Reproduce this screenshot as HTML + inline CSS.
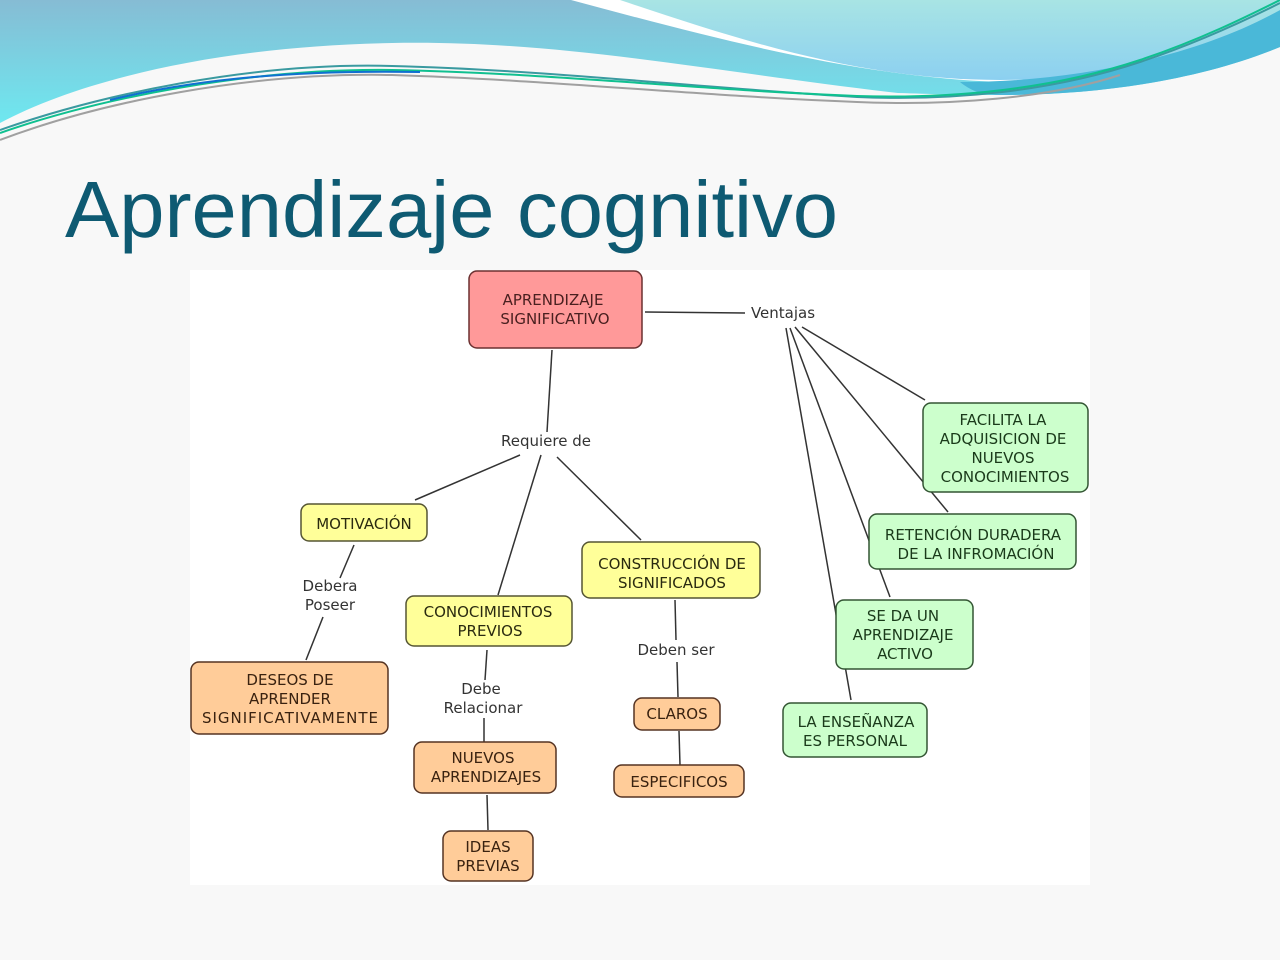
<!DOCTYPE html>
<html><head><meta charset="utf-8"><style>
html,body{margin:0;padding:0;width:1280px;height:960px;overflow:hidden;background:#f8f8f8}
svg{display:block}
</style></head><body>
<svg width="1280" height="960" viewBox="0 0 1280 960" xmlns="http://www.w3.org/2000/svg">
<defs>
<linearGradient id="g1" x1="0" y1="0" x2="0" y2="1"><stop offset="0" stop-color="#86bcd4"/><stop offset="1" stop-color="#6ee8f0"/></linearGradient>
<linearGradient id="g2" x1="0" y1="0" x2="0" y2="1"><stop offset="0" stop-color="#a8e4e4"/><stop offset="1" stop-color="#8cd0f0"/></linearGradient>
</defs>
<rect width="1280" height="960" fill="#f8f8f8"/>
<path d="M0 0 H1280 V47 C1200 80 1100 95 1000 95 C960 95 930 94 898 93 C700 70 560 40 392 43 C220 46 80 80 0 123 Z" fill="url(#g1)"/>
<path d="M571 0 H1280 V30 C1200 70 1080 85 1000 82 C860 77 720 40 571 0 Z" fill="#fff"/>
<path d="M620 0 H1280 V10 C1220 50 1120 80 1000 80 C860 80 740 40 620 0 Z" fill="url(#g2)"/>
<path d="M960 82 C1080 82 1200 55 1280 10 V47 C1200 80 1100 95 1000 95 C980 95 970 90 960 82 Z" fill="#4ab8d8"/>
<path d="M0 130 C100 95 250 62 392 66 C550 70 700 88 857 97 C950 101 1050 92 1140 62 C1200 42 1250 18 1280 3" fill="none" stroke="#3a9aa0" stroke-width="2"/>
<path d="M0 133 C100 98 250 68 392 70 C550 73 700 90 857 96 C950 99 1050 90 1140 60 C1200 40 1250 15 1280 0" fill="none" stroke="#10c090" stroke-width="2"/>
<path d="M0 140 C100 102 250 72 392 75 C550 80 700 96 857 102 C950 106 1050 98 1120 75" fill="none" stroke="#a0a0a0" stroke-width="2"/>
<path d="M110 100 C200 78 300 70 420 72" fill="none" stroke="#1070d0" stroke-width="2"/>
<text x="65" y="237" font-family="Liberation Sans, sans-serif" font-size="80" fill="#0e5a72" textLength="773" lengthAdjust="spacingAndGlyphs">Aprendizaje cognitivo</text>
<rect x="190" y="270" width="900" height="615" fill="#fff"/>
<g stroke="#333" stroke-width="1.5" fill="none">
<line x1="552" y1="350" x2="547" y2="432"/>
<line x1="645" y1="312" x2="745" y2="313"/>
<line x1="520" y1="455" x2="415" y2="500"/>
<line x1="541" y1="455" x2="498" y2="595"/>
<line x1="557" y1="457" x2="641" y2="540"/>
<line x1="354" y1="545" x2="340" y2="578"/>
<line x1="323" y1="617" x2="306" y2="660"/>
<line x1="487" y1="650" x2="485" y2="680"/>
<line x1="484" y1="718" x2="484" y2="742"/>
<line x1="487" y1="795" x2="488" y2="830"/>
<line x1="675" y1="600" x2="676" y2="640"/>
<line x1="677" y1="662" x2="678" y2="697"/>
<line x1="679" y1="731" x2="680" y2="765"/>
<line x1="802" y1="327" x2="925" y2="400"/>
<line x1="795" y1="327" x2="948" y2="512"/>
<line x1="790" y1="328" x2="890" y2="597"/>
<line x1="786" y1="328" x2="851" y2="700"/>
</g>
<g stroke-width="1.5">
<rect x="469" y="271" width="173" height="77" rx="8" fill="#ff9999" stroke="#6b3030"/>
<rect x="301" y="504" width="126" height="37" rx="8" fill="#ffff99" stroke="#555533"/>
<rect x="406" y="596" width="166" height="50" rx="8" fill="#ffff99" stroke="#555533"/>
<rect x="582" y="542" width="178" height="56" rx="8" fill="#ffff99" stroke="#555533"/>
<rect x="191" y="662" width="197" height="72" rx="8" fill="#ffcc99" stroke="#553322"/>
<rect x="414" y="742" width="142" height="51" rx="8" fill="#ffcc99" stroke="#553322"/>
<rect x="443" y="831" width="90" height="50" rx="8" fill="#ffcc99" stroke="#553322"/>
<rect x="634" y="698" width="86" height="32" rx="8" fill="#ffcc99" stroke="#553322"/>
<rect x="614" y="765" width="130" height="32" rx="8" fill="#ffcc99" stroke="#553322"/>
<rect x="923" y="403" width="165" height="89" rx="8" fill="#ccffcc" stroke="#335533"/>
<rect x="869" y="514" width="207" height="55" rx="8" fill="#ccffcc" stroke="#335533"/>
<rect x="836" y="600" width="137" height="69" rx="8" fill="#ccffcc" stroke="#335533"/>
<rect x="783" y="703" width="144" height="54" rx="8" fill="#ccffcc" stroke="#335533"/>
</g>
<g font-family="DejaVu Sans, sans-serif" font-size="15" text-anchor="middle">
<g fill="#4a2020">
<text x="553" y="305">APRENDIZAJE</text><text x="555" y="324">SIGNIFICATIVO</text>
</g>
<g fill="#2a2a10">
<text x="364" y="529">MOTIVACIÓN</text>
<text x="488" y="617">CONOCIMIENTOS</text><text x="490" y="636">PREVIOS</text>
<text x="672" y="569">CONSTRUCCIÓN DE</text><text x="672" y="588">SIGNIFICADOS</text>
</g>
<g fill="#3a2210">
<text x="290" y="685">DESEOS DE</text><text x="290" y="704">APRENDER</text><text x="290" y="723" textLength="176">SIGNIFICATIVAMENTE</text>
<text x="483" y="763">NUEVOS</text><text x="486" y="782">APRENDIZAJES</text>
<text x="488" y="852">IDEAS</text><text x="488" y="871">PREVIAS</text>
<text x="677" y="719">CLAROS</text>
<text x="679" y="787">ESPECIFICOS</text>
</g>
<g fill="#1a3a1a">
<text x="1003" y="425">FACILITA LA</text><text x="1003" y="444">ADQUISICION DE</text><text x="1003" y="463">NUEVOS</text><text x="1005" y="482">CONOCIMIENTOS</text>
<text x="973" y="540">RETENCIÓN DURADERA</text><text x="976" y="559">DE LA INFROMACIÓN</text>
<text x="903" y="621">SE DA UN</text><text x="903" y="640">APRENDIZAJE</text><text x="905" y="659">ACTIVO</text>
<text x="856" y="727">LA ENSEÑANZA</text><text x="855" y="746">ES PERSONAL</text>
</g>
<g fill="#333" font-size="15">
<text x="783" y="318">Ventajas</text>
<text x="546" y="446">Requiere de</text>
<text x="330" y="591">Debera</text><text x="330" y="610">Poseer</text>
<text x="481" y="694">Debe</text><text x="483" y="713">Relacionar</text>
<text x="676" y="655">Deben ser</text>
</g>
</g>
</svg>
</body></html>
